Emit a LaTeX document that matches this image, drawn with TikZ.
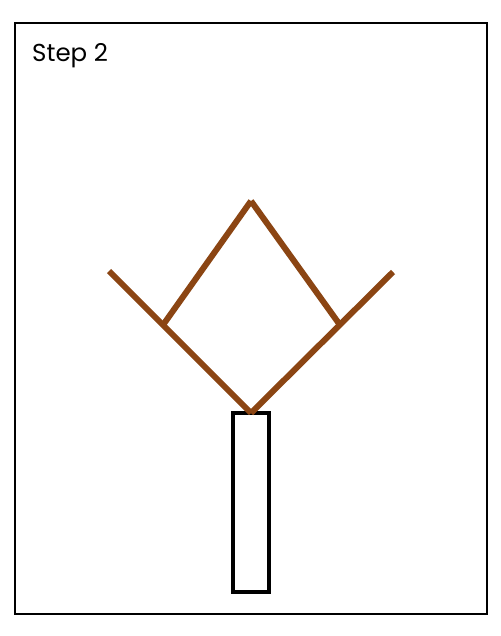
\documentclass[tikz,border=0pt]{standalone}
\usepackage{fontspec}
\setmainfont{Poppins}
\definecolor{branch}{HTML}{8B4513}
\begin{document}
\begin{tikzpicture}[x=1pt,y=-1pt,
  frame/.style={draw=black,line width=1.5pt},
  trunk/.style={draw=black,line width=3.2pt},
  twig/.style={draw=branch,line width=6pt}]
\useasboundingbox (0,0) rectangle (500,636);
\fill[white] (0,0) rectangle (500,636);
\draw[frame] (15,23) rectangle (487,614);
\node[anchor=base west,inner sep=0pt,font=\fontsize{24.5}{28}\selectfont] (title) at (32,62) {Step 2};
\draw[trunk] (233,413) rectangle (269,592);
\coordinate (top) at (251,201);
\coordinate (lj) at (163,325);
\coordinate (rj) at (340,325);
\coordinate (lt) at (109,271);
\coordinate (rt) at (393,272);
\coordinate (bot) at (251,413);
\draw[twig] (lj) -- (top);
\draw[twig] (top) -- (rj);
\draw[twig] (lt) -- (bot);
\draw[twig] (bot) -- (rt);
\end{tikzpicture}
\end{document}
